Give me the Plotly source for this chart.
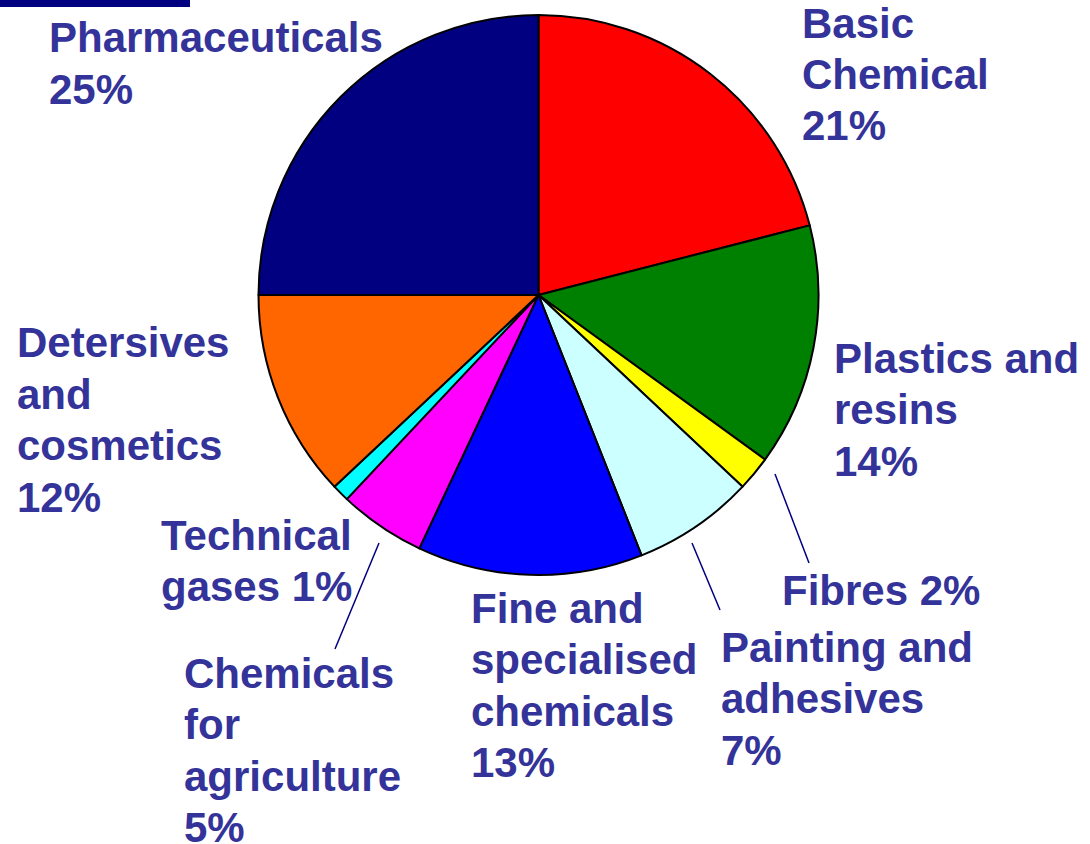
import plotly.graph_objects as go

# Data
categories = ["Basic Chemical", "Plastics and resins", "Fibres", "Painting and adhesives",
              "Fine and specialised chemicals", "Chemicals for agriculture", "Technical gases",
              "Detersives and cosmetics", "Pharmaceuticals"]
values = [21, 14, 2, 7, 13, 5, 1, 12, 25]
colors = ["#FF0000", "#008000", "#FFFF00", "#CCFFFF", "#0000FF", "#FF00FF", "#00FFFF",
          "#FF6600", "#000080"]
label_texts = ["Basic<br>Chemical<br>21%", "Plastics and<br>resins<br>14%", "Fibres 2%",
               "Painting and<br>adhesives<br>7%", "Fine and<br>specialised<br>chemicals<br>13%",
               "Chemicals<br>for<br>agriculture<br>5%", "Technical<br>gases 1%",
               "Detersives<br>and<br>cosmetics<br>12%", "Pharmaceuticals<br>25%"]

W, H = 1090, 844
# label anchor positions (pixels: left x, first-line center y)
label_pos = [(800, 23), (832, 358), (780, 590), (719, 647), (469, 608),
             (182, 673), (159, 535), (15, 343), (47, 38)]
LINE_STEP = 51.5

cx, cy, r = 538.5, 295, 280

fig = go.Figure(go.Pie(
    labels=categories, values=values, sort=False, direction="clockwise", rotation=0,
    marker=dict(colors=colors, line=dict(color="black", width=2)),
    textinfo="none", hoverinfo="label+percent", showlegend=False,
    domain=dict(x=[(cx - r) / W, (cx + r) / W], y=[1 - (cy + r) / H, 1 - (cy - r) / H]),
))

for t, (px, py) in zip(label_texts, label_pos):
    for i, line in enumerate(t.split("<br>")):
        fig.add_annotation(x=px / W, y=1 - (py + i * LINE_STEP) / H, xref="paper", yref="paper",
                           text=line, showarrow=False, xanchor="left", yanchor="middle",
                           align="left",
                           font=dict(family="Liberation Sans, Arial, sans-serif", size=42,
                                     color="#333399", weight="bold"))

# leader lines
leaders = [((775, 474), (809, 563)), ((692, 543), (720, 610)), ((379, 543), (335, 649))]
for (x0, y0), (x1, y1) in leaders:
    fig.add_shape(type="line", xref="paper", yref="paper",
                  x0=x0 / W, y0=1 - y0 / H, x1=x1 / W, y1=1 - y1 / H,
                  line=dict(color="#000080", width=1.5))

# top-left bar
fig.add_shape(type="rect", xref="paper", yref="paper", x0=0, x1=190 / W, y0=1 - 7 / H, y1=1,
              fillcolor="#000080", line=dict(width=0))

fig.update_layout(width=W, height=H, margin=dict(l=0, r=0, t=0, b=0),
                  paper_bgcolor="white", plot_bgcolor="white")
fig.write_html("out.html", config={"displayModeBar": False},
               post_script="document.body.style.margin='0';document.body.style.overflow='hidden';")
